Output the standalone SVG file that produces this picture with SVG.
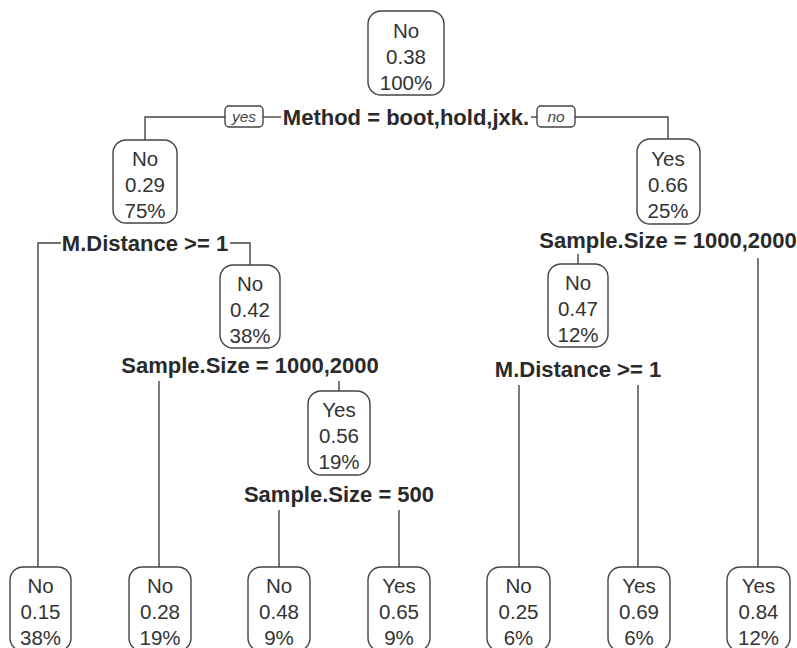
<svg xmlns="http://www.w3.org/2000/svg" width="797" height="648" viewBox="0 0 797 648">
<style>
.box{fill:#fff;stroke:#444;stroke-width:1.4}
.t{font-family:"Liberation Sans",Arial,sans-serif;font-size:20.5px;fill:#333;text-anchor:middle}
.s{font-family:"Liberation Sans",Arial,sans-serif;font-size:22px;font-weight:bold;fill:#2a2a2a;text-anchor:middle}
.yn{font-family:"Liberation Sans",Arial,sans-serif;font-size:15.5px;font-style:italic;fill:#444;text-anchor:middle}
.ln{fill:none;stroke:#444;stroke-width:1.4}
</style>
<rect width="797" height="648" fill="#fff"/>
<g id="connectors">
<path class="ln" d="M225,117 H145 V140"/>
<path class="ln" d="M263,117 H281"/>
<path class="ln" d="M531,117 H537"/>
<path class="ln" d="M575,117 H668 V139"/>
<path class="ln" d="M61,243 H38 V567"/>
<path class="ln" d="M230,243 H250 V265"/>
<path class="ln" d="M578,254 V264"/>
<path class="ln" d="M758,258 V567"/>
<path class="ln" d="M159,381 V567"/>
<path class="ln" d="M339,381 V391"/>
<path class="ln" d="M279,510 V567"/>
<path class="ln" d="M399,510 V567"/>
<path class="ln" d="M519,385 V567"/>
<path class="ln" d="M638,385 V567"/>
<rect class="box" x="225" y="106" width="38" height="21" rx="4"/>
<text class="yn" x="244" y="121.5">yes</text>
<rect class="box" x="537" y="106" width="38" height="21" rx="4"/>
<text class="yn" x="556" y="121.5">no</text>
<text class="s" x="406" y="125">Method = boot,hold,jxk.</text>
<text class="s" x="145" y="251">M.Distance &gt;= 1</text>
<text class="s" x="668" y="248">Sample.Size = 1000,2000</text>
<text class="s" x="250" y="373">Sample.Size = 1000,2000</text>
<text class="s" x="578" y="377">M.Distance &gt;= 1</text>
<text class="s" x="339" y="502">Sample.Size = 500</text>
</g>
<g id="n1"><rect class="box" x="368" y="11" width="76" height="84" rx="13"/><text class="t" x="406" y="38">No</text><text class="t" x="406" y="64">0.38</text><text class="t" x="406" y="90">100%</text></g>
<g id="n2"><rect class="box" x="113" y="140" width="64" height="83" rx="13"/><text class="t" x="145" y="166">No</text><text class="t" x="145" y="192">0.29</text><text class="t" x="145" y="218">75%</text></g>
<g id="n3"><rect class="box" x="637" y="139" width="63" height="85" rx="13"/><text class="t" x="668" y="166">Yes</text><text class="t" x="668" y="192">0.66</text><text class="t" x="668" y="218">25%</text></g>
<g id="n4"><rect class="box" x="220" y="265" width="60" height="83" rx="13"/><text class="t" x="250" y="291">No</text><text class="t" x="250" y="317">0.42</text><text class="t" x="250" y="343">38%</text></g>
<g id="n5"><rect class="box" x="548" y="264" width="60" height="83" rx="13"/><text class="t" x="578" y="290">No</text><text class="t" x="578" y="316">0.47</text><text class="t" x="578" y="342">12%</text></g>
<g id="n6"><rect class="box" x="308" y="391" width="62" height="84" rx="13"/><text class="t" x="339" y="417">Yes</text><text class="t" x="339" y="443">0.56</text><text class="t" x="339" y="469">19%</text></g>
<g id="l1"><rect class="box" x="10" y="567" width="61" height="84" rx="13"/><text class="t" x="40.5" y="593">No</text><text class="t" x="40.5" y="619">0.15</text><text class="t" x="40.5" y="645">38%</text></g>
<g id="l2"><rect class="box" x="129" y="567" width="62" height="84" rx="13"/><text class="t" x="160" y="593">No</text><text class="t" x="160" y="619">0.28</text><text class="t" x="160" y="645">19%</text></g>
<g id="l3"><rect class="box" x="248" y="567" width="62" height="84" rx="13"/><text class="t" x="279" y="593">No</text><text class="t" x="279" y="619">0.48</text><text class="t" x="279" y="645">9%</text></g>
<g id="l4"><rect class="box" x="368" y="567" width="62" height="84" rx="13"/><text class="t" x="399" y="593">Yes</text><text class="t" x="399" y="619">0.65</text><text class="t" x="399" y="645">9%</text></g>
<g id="l5"><rect class="box" x="487" y="567" width="63" height="84" rx="13"/><text class="t" x="518.5" y="593">No</text><text class="t" x="518.5" y="619">0.25</text><text class="t" x="518.5" y="645">6%</text></g>
<g id="l6"><rect class="box" x="608" y="567" width="62" height="84" rx="13"/><text class="t" x="639" y="593">Yes</text><text class="t" x="639" y="619">0.69</text><text class="t" x="639" y="645">6%</text></g>
<g id="l7"><rect class="box" x="727" y="567" width="63" height="84" rx="13"/><text class="t" x="758.5" y="593">Yes</text><text class="t" x="758.5" y="619">0.84</text><text class="t" x="758.5" y="645">12%</text></g>
</svg>
